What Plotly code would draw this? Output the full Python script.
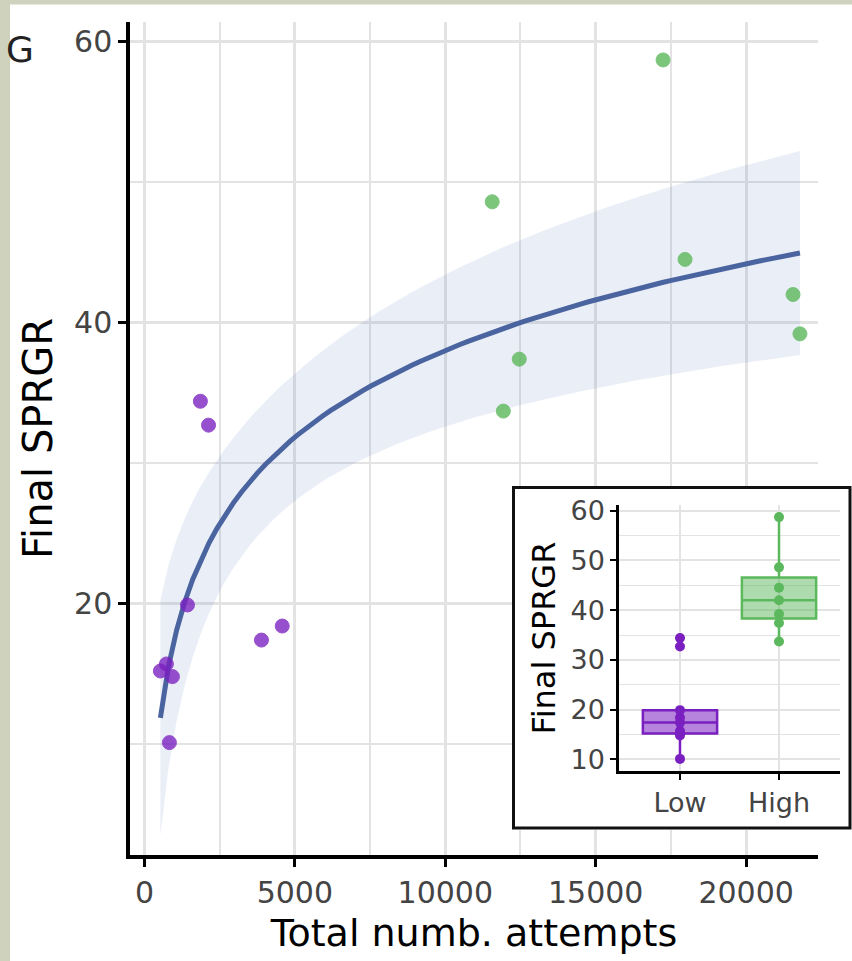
import numpy as np
import plotly.graph_objects as go

# ---------------- data ----------------
low_attempts = [530, 730, 930, 830, 1430, 1860, 2130, 3890, 4580]
low_sprgr = [15.2, 15.7, 14.8, 10.1, 19.9, 34.4, 32.7, 17.4, 18.4]
high_attempts = [11560, 17240, 17970, 12460, 11930, 21560, 21790]
high_sprgr = [48.6, 58.7, 44.5, 37.4, 33.7, 42.0, 39.2]
groups = ["Low", "High"]
x_ticks = [0, 5000, 10000, 15000, 20000]
y_ticks = [20, 40, 60]
inset_y_ticks = [10, 20, 30, 40, 50, 60]

PURPLE = "#7a1fc0"
GREEN = "#5cb85c"
LINE = "#4a64a0"
FONT = "DejaVu Sans"

# ---------------- lm(y ~ log(x)) with 95% confidence band ----------------
x_all = np.array(low_attempts + high_attempts, float)
y_all = np.array(low_sprgr + high_sprgr, float)
n = len(x_all)
X = np.column_stack([np.ones(n), np.log(x_all)])
beta, *_ = np.linalg.lstsq(X, y_all, rcond=None)
res = y_all - X @ beta
s2 = res @ res / (n - 2)
XtX_inv = np.linalg.inv(X.T @ X)
xg = np.linspace(x_all.min(), x_all.max(), 80)
Xg = np.column_stack([np.ones_like(xg), np.log(xg)])
fit = Xg @ beta
se = np.sqrt(s2 * np.einsum("ij,jk,ik->i", Xg, XtX_inv, Xg))
t_crit = 2.1448  # t(0.975, df = n - 2 = 14)
upper = fit + t_crit * se
lower = fit - t_crit * se

# ---------------- geometry ----------------
W, H = 852, 961
L, R, T, B = 130, 0, 22, 106
PW, PH = W - L - R, H - T - B
X_RANGE = [-480, 22390]
Y_RANGE = [2.1, 61.4]
MAIN_RIGHT = 818


def px(xp):
    return (xp - L) / PW


def py(yp):
    return (H - B - yp) / PH


def data_x(xp):
    return X_RANGE[0] + (xp - L) / (MAIN_RIGHT - L) * (X_RANGE[1] - X_RANGE[0])


def data_y(yp):
    return Y_RANGE[0] + (H - B - yp) / PH * (Y_RANGE[1] - Y_RANGE[0])


fig = go.Figure()

# white panel behind the inset (hides the main grid there)
bx0, bx1 = data_x(512), data_x(MAIN_RIGHT + 5)
by0, by1 = data_y(830), data_y(486)
fig.add_trace(go.Scatter(x=[bx0, bx1, bx1, bx0, bx0], y=[by0, by0, by1, by1, by0],
                         fill="toself", fillcolor="white", mode="lines", line=dict(width=0),
                         hoverinfo="skip", showlegend=False, xaxis="x", yaxis="y"))

# confidence ribbon
fig.add_trace(go.Scatter(
    x=np.concatenate([xg, xg[::-1]]), y=np.concatenate([upper, lower[::-1]]),
    fill="toself", fillcolor="rgba(80,115,190,0.12)", line=dict(width=0),
    mode="lines", hoverinfo="skip", showlegend=False, xaxis="x", yaxis="y"))
# fitted line
fig.add_trace(go.Scatter(x=xg, y=fit, mode="lines", line=dict(color=LINE, width=5),
                         showlegend=False, xaxis="x", yaxis="y"))
# points
fig.add_trace(go.Scatter(x=low_attempts, y=low_sprgr, mode="markers",
                         marker=dict(color=PURPLE, size=14, opacity=0.78,
                                     line=dict(color=PURPLE, width=1)),
                         showlegend=False, xaxis="x", yaxis="y"))
fig.add_trace(go.Scatter(x=high_attempts, y=high_sprgr, mode="markers",
                         marker=dict(color=GREEN, size=14, opacity=0.8,
                                     line=dict(color=GREEN, width=1)),
                         showlegend=False, xaxis="x", yaxis="y"))

# inset boxplots
for name, vals, col, fill in [(groups[0], low_sprgr, PURPLE, "rgba(122,31,192,0.55)"),
                              (groups[1], high_sprgr, GREEN, "rgba(92,184,92,0.5)")]:
    fig.add_trace(go.Box(
        x=[name] * len(vals), y=vals, name=name, quartilemethod="inclusive",
        boxpoints="all", jitter=0, pointpos=0, whiskerwidth=0, width=0.75,
        fillcolor=fill, line=dict(color=col, width=2.5),
        marker=dict(color=col, size=10), showlegend=False,
        xaxis="x2", yaxis="y2"))

grid = "#e3e3e3"
tickcol = "#444444"

fig.update_layout(
    width=W, height=H, margin=dict(l=L, r=R, t=T, b=B),
    paper_bgcolor="white", plot_bgcolor="white",
    font=dict(family=FONT, color="black"),
    showlegend=False,
    xaxis=dict(domain=[0, px(MAIN_RIGHT)], range=X_RANGE,
               tickmode="array", tickvals=x_ticks, ticktext=[str(v) for v in x_ticks],
               showline=True, linecolor="black", linewidth=3.5,
               ticks="outside", ticklen=8, tickwidth=2.5, tickcolor="black",
               tickfont=dict(size=30, color=tickcol, family=FONT),
               showgrid=True, gridcolor=grid, gridwidth=3, zeroline=False,
               minor=dict(tickmode="array", tickvals=[2500, 7500, 12500, 17500],
                          showgrid=True, gridcolor=grid, gridwidth=1.5, ticks=""),
               title=dict(text="Total numb. attempts", font=dict(size=38, family=FONT, color="black"),
                          standoff=12),
               anchor="y"),
    yaxis=dict(domain=[0, 1], range=Y_RANGE,
               tickmode="array", tickvals=y_ticks, ticktext=[str(v) for v in y_ticks],
               showline=True, linecolor="black", linewidth=3.5,
               ticks="outside", ticklen=8, tickwidth=2.5, tickcolor="black",
               tickfont=dict(size=30, color=tickcol, family=FONT),
               showgrid=True, gridcolor=grid, gridwidth=3, zeroline=False,
               minor=dict(tickmode="array", tickvals=[10, 30, 50],
                          showgrid=True, gridcolor=grid, gridwidth=1.5, ticks=""),
               title=dict(text="Final SPRGR", font=dict(size=40, family=FONT, color="black"),
                          standoff=10),
               anchor="x"),
    xaxis2=dict(domain=[px(619), px(840)], range=[-0.616, 1.616], type="category",
                categoryorder="array", categoryarray=groups,
                showline=True, linecolor="black", linewidth=2.5,
                ticks="outside", ticklen=6, tickwidth=2, tickcolor="black",
                tickfont=dict(size=27, color=tickcol, family=FONT),
                showgrid=True, gridcolor=grid, gridwidth=2, zeroline=False,
                anchor="y2"),
    yaxis2=dict(domain=[py(771), py(505)], range=[7.67, 61.13],
                tickmode="array", tickvals=inset_y_ticks,
                ticktext=[str(v) for v in inset_y_ticks],
                showline=True, linecolor="black", linewidth=2.5,
                ticks="outside", ticklen=6, tickwidth=2, tickcolor="black",
                tickfont=dict(size=27, color=tickcol, family=FONT),
                showgrid=True, gridcolor=grid, gridwidth=2, zeroline=False,
                minor=dict(tickmode="array", tickvals=[15, 25, 35, 45, 55],
                           showgrid=True, gridcolor=grid, gridwidth=1, ticks=""),
                title=dict(text="Final SPRGR", font=dict(size=32, family=FONT, color="black"),
                           standoff=6),
                anchor="x2"),
    shapes=[
        # inset frame
        dict(type="rect", xref="paper", yref="paper",
             x0=px(513.5), x1=px(850), y0=py(828), y1=py(487.5),
             fillcolor="rgba(0,0,0,0)", line=dict(color="#111111", width=3), layer="above"),
        # outer page strips
        dict(type="rect", xref="paper", yref="paper", x0=px(-5), x1=px(10), y0=py(970), y1=py(-5),
             fillcolor="#cfd3bd", line=dict(width=0), layer="above"),
        dict(type="rect", xref="paper", yref="paper", x0=px(-5), x1=px(860), y0=py(4.5), y1=py(-5),
             fillcolor="#cfd3bd", line=dict(width=0), layer="above"),
    ],
    annotations=[
        dict(text="G", xref="paper", yref="paper", x=px(4), y=py(50),
             xanchor="left", yanchor="middle", showarrow=False,
             font=dict(size=36, family=FONT, color="#222222")),
    ],
)

fig.write_html("out.html", config={"displayModeBar": False},
               post_script="document.body.style.margin='0';document.body.style.overflow='hidden';")
